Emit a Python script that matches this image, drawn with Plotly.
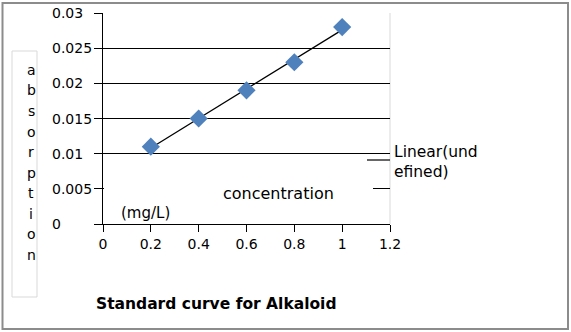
import numpy as np
import plotly.graph_objects as go

# Alkaloid standard: concentration (mg/L) vs absorption
concentration = [0.2, 0.4, 0.6, 0.8, 1.0]
absorption = [0.011, 0.015, 0.019, 0.023, 0.028]

y_tick_values = [0, 0.005, 0.01, 0.015, 0.02, 0.025, 0.03]
y_tick_labels = ["0", "0.005", "0.01", "0.015", "0.02", "0.025", "0.03"]
x_tick_values = [0, 0.2, 0.4, 0.6, 0.8, 1.0, 1.2]
x_tick_labels = ["0", "0.2", "0.4", "0.6", "0.8", "1", "1.2"]

y_label_letters = list("absorption")

W, H = 571, 332
L, R, T, B = 103, 390, 13, 224  # plot area in pixels

FONT = "DejaVu Sans"
INK = "#000000"


def px(x):
    return (x - L) / (R - L)


def py(y):
    return (B - y) / (B - T)


# least-squares trend line over the measured range
slope, intercept = np.polyfit(concentration, absorption, 1)
trend_x = [min(concentration), max(concentration)]
trend_y = [slope * v + intercept for v in trend_x]

fig = go.Figure()
fig.add_trace(go.Scatter(
    x=trend_x, y=trend_y, mode="lines",
    line=dict(color="#000000", width=1.3), showlegend=False, hoverinfo="skip",
))
fig.add_trace(go.Scatter(
    x=concentration, y=absorption, mode="markers",
    marker=dict(symbol="diamond", size=14, color="#4F81BD",
                line=dict(width=0)),
    showlegend=False,
))

shapes = []
# white panel holding the axis caption, over the lower gridlines
shapes.append(dict(type="rect", xref="paper", yref="paper",
                   x0=px(104), x1=px(373), y0=py(222.5), y1=py(158),
                   fillcolor="white", line=dict(width=0), layer="above"))
# light right border of the plot area
shapes.append(dict(type="line", xref="paper", yref="paper",
                   x0=1, x1=1, y0=0, y1=1,
                   line=dict(color="#d9d9d9", width=1), layer="below"))
# legend line sample
shapes.append(dict(type="line", xref="paper", yref="paper",
                   x0=px(367), x1=px(390), y0=py(160), y1=py(160),
                   line=dict(color=INK, width=1.2)))
# y-axis title frame
shapes.append(dict(type="rect", xref="paper", yref="paper",
                   x0=px(12), x1=px(37), y0=py(297), y1=py(51),
                   line=dict(color="#d9d9d9", width=1), fillcolor="rgba(0,0,0,0)"))
# outer frame
shapes.append(dict(type="rect", xref="paper", yref="paper",
                   x0=px(2.5), x1=px(568), y0=py(329), y1=py(3),
                   line=dict(color="#8c8c8c", width=2), fillcolor="rgba(0,0,0,0)"))

annotations = []
for v, lab in zip(y_tick_values, y_tick_labels):
    annotations.append(dict(x=px(50), y=v, xref="paper", yref="y", text=lab,
                            showarrow=False, xanchor="left", yanchor="middle",
                            font=dict(family=FONT, size=14, color="#000")))
for i, ch in enumerate(y_label_letters):
    annotations.append(dict(x=px(31), y=py(70 + i * 20.5), xref="paper", yref="paper",
                            text=ch, showarrow=False, xanchor="center", yanchor="middle",
                            font=dict(family=FONT, size=14, color="#000")))
annotations.append(dict(x=px(278), y=py(193), xref="paper", yref="paper",
                        text="concentration", showarrow=False,
                        xanchor="center", yanchor="middle",
                        font=dict(family=FONT, size=16, color="#000")))
annotations.append(dict(x=px(119), y=py(213), xref="paper", yref="paper",
                        text="(mg/L)", showarrow=False,
                        xanchor="left", yanchor="middle",
                        font=dict(family=FONT, size=15, color="#000")))
annotations.append(dict(x=px(392), y=py(162), xref="paper", yref="paper",
                        text="Linear(und<br>efined)", showarrow=False,
                        xanchor="left", yanchor="middle", align="left",
                        font=dict(family=FONT, size=15.5, color="#000")))
annotations.append(dict(x=px(216), y=py(304), xref="paper", yref="paper",
                        text="<b>Standard curve for Alkaloid</b>", showarrow=False,
                        xanchor="center", yanchor="middle",
                        font=dict(family=FONT, size=15.5, color="#000")))

fig.update_layout(
    width=W, height=H,
    margin=dict(l=L, r=W - R, t=T, b=H - B, pad=0),
    paper_bgcolor="white", plot_bgcolor="white",
    shapes=shapes, annotations=annotations,
    xaxis=dict(range=[0, 1.2], tickvals=x_tick_values, ticktext=x_tick_labels,
               ticks="outside", ticklen=7, tickcolor=INK, tickwidth=1.2,
               showline=True, linecolor=INK, linewidth=1.2,
               showgrid=False, zeroline=False,
               tickfont=dict(family=FONT, size=14, color="#000")),
    yaxis=dict(range=[0, 0.03], tickvals=y_tick_values,
               ticks="outside", ticklen=8, tickcolor=INK, tickwidth=1.2,
               showticklabels=False,
               showline=True, linecolor=INK, linewidth=1.2,
               showgrid=True, gridcolor=INK, gridwidth=1.2,
               zeroline=False),
)

fig.write_html("out.html")
